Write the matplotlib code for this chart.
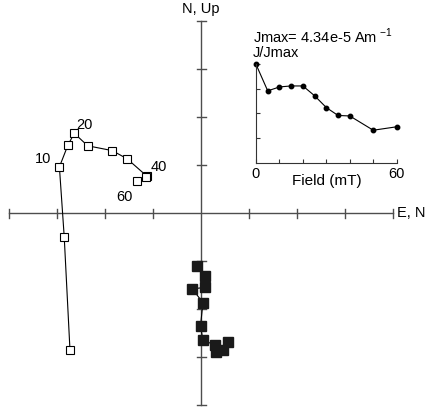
import matplotlib
matplotlib.use("Agg")
import matplotlib.pyplot as plt

plt.rcParams['font.family'] = ['Liberation Sans', 'DejaVu Sans']

# Demagnetization steps (mT)
steps = [0, 5, 10, 15, 20, 25, 30, 35, 40, 50, 60]
# Vertical projection (open squares): N vs Up
vert_x = [-2.73, -2.85, -2.95, -2.77, -2.64, -2.36, -1.85, -1.54, -1.13, -1.15, -1.33]
vert_y = [-2.85, -0.49, 0.96, 1.42, 1.66, 1.40, 1.30, 1.13, 0.77, 0.74, 0.67]
# Horizontal projection (filled squares): E vs N
hor_x = [0.57, 0.46, 0.31, 0.29, 0.04, -0.01, 0.04, -0.18, 0.09, 0.09, -0.08]
hor_y = [-2.68, -2.85, -2.90, -2.75, -2.65, -2.35, -1.87, -1.58, -1.55, -1.31, -1.10]
# Intensity decay
j_norm = [1.0, 0.73, 0.77, 0.78, 0.78, 0.68, 0.56, 0.48, 0.475, 0.33, 0.365]
step_labels = {10: "10", 20: "20", 40: "40", 60: "60"}
axis_ticks = [-4, -3, -2, -1, 1, 2, 3, 4]

W, H = 429, 408
fig = plt.figure(figsize=(W / 100, H / 100), dpi=100)
ax = fig.add_axes([0, 0, 1, 1])
ox, oy, s = 201, 213, 48.0
ax.set_xlim(-ox / s, (W - ox) / s)
ax.set_ylim((oy - H) / s, oy / s)
ax.axis('off')

acol = '#4d4d4d'
ax.plot([-4, 4], [0, 0], color=acol, lw=1.0, zorder=1)
ax.plot([0, 0], [-4, 4], color=acol, lw=1.0, zorder=1)
tl = 4.5 / s
for t in axis_ticks:
    ax.plot([t, t], [-tl, tl], color=acol, lw=1.0, zorder=1)
    ax.plot([-tl, tl], [t, t], color=acol, lw=1.0, zorder=1)

ax.plot(vert_x, vert_y, color='black', lw=0.8, marker='s', ms=6,
        mfc='white', mec='black', mew=0.8, zorder=3)
ax.plot(hor_x, hor_y, color='black', lw=0.8, marker='s', ms=7.2,
        mfc='#1a1a1a', mec='#1a1a1a', zorder=3)

offs = {10: (-0.17, 0.17, 'right'), 20: (0.05, 0.18, 'left'),
        40: (0.08, 0.18, 'left'), 60: (-0.27, -0.34, 'center')}
for st, lab in step_labels.items():
    i = steps.index(st)
    dx, dy, ha = offs[st]
    ax.text(vert_x[i] + dx, vert_y[i] + dy, lab, fontsize=10.5, ha=ha, va='center')

ax.text(0, 4.25, "N, Up", fontsize=10.5, ha='center', va='center')
ax.text(4.08, 0, "E, N", fontsize=10.5, ha='left', va='center')

# Inset
l, r, t, b = 256, 396.7, 64.3, 162.7
ins = fig.add_axes([l / W, 1 - b / H, (r - l) / W, (b - t) / H])
ins.plot(steps, j_norm, color='black', lw=0.8, marker='o', ms=3.2, clip_on=False)
ins.set_xlim(0, 60)
ins.set_ylim(0, 1)
ins.spines['top'].set_visible(False)
ins.spines['right'].set_visible(False)
for sp in ('left', 'bottom'):
    ins.spines[sp].set_linewidth(0.8)
    ins.spines[sp].set_color('#333333')
ins.set_xticks(range(0, 61, 10))
ins.set_xticklabels(['0', '', '', '', '', '', '60'])
ins.set_yticks([0.25, 0.5, 0.75, 1.0])
ins.set_yticklabels([])
ins.tick_params(direction='in', length=3, width=0.8, labelsize=10.5, pad=3, color='#333333')
ins.patch.set_alpha(0)
ins.set_xlabel("Field (mT)", fontsize=11, labelpad=-5)
ins.text(-0.02, 1.28, "Jmax= 4.34e-5 Am$^{\\ \\mathregular{-1}}$", transform=ins.transAxes,
         fontsize=10.5, ha='left', va='center')
ins.text(-0.02, 1.11, "J/Jmax", transform=ins.transAxes, fontsize=10.5,
         ha='left', va='center')

fig.savefig("out.png", dpi=100)
